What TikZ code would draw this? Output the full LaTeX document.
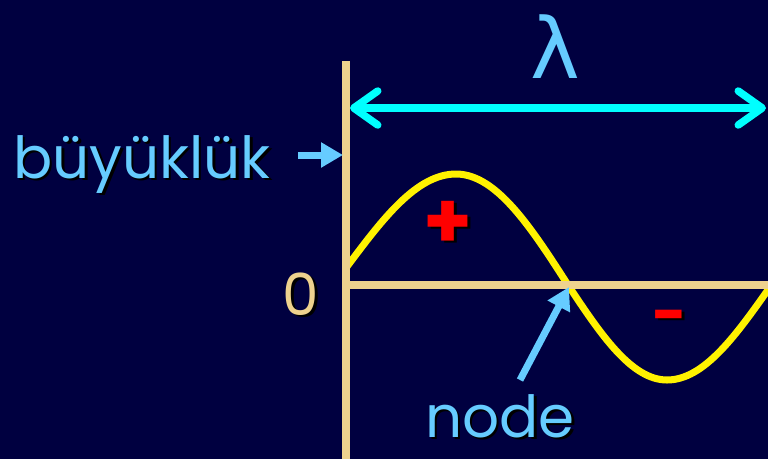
\documentclass[tikz,border=0pt]{standalone}
\usepackage{fontspec}
\setmainfont{Poppins}
\newfontfamily\lambdafont{DejaVu Sans}
\usetikzlibrary{arrows.meta}
\definecolor{bgnavy}{RGB}{0,0,64}
\definecolor{axistan}{RGB}{238,210,142}
\definecolor{labelblue}{RGB}{102,204,255}
\definecolor{spancyan}{RGB}{0,255,255}
\newcommand{\shadowed}[1]{\makebox[0pt][l]{\hspace{2.5pt}\raisebox{-2.5pt}{\color{black}#1}}#1}

\begin{document}
\begin{tikzpicture}[x=1pt,y=-1pt,
    axis/.style={draw=axistan,line width=7.5pt},
    pointer/.style={draw=labelblue,line width=7pt,-{Triangle[length=22pt,width=24pt]}},
    wordlabel/.style={text=labelblue,inner sep=0pt,anchor=base,font=\fontsize{58}{58}\selectfont},
    signlabel/.style={text=red,inner sep=0pt,font=\bfseries\fontsize{60}{60}\selectfont}]
    \fill[bgnavy] (0,0) rectangle (768,459);
    \useasboundingbox (0,0) rectangle (768,459);
    \coordinate (o) at (346,285);
    \coordinate (ytop) at (346,61);
    \coordinate (ybot) at (346,459);
    \coordinate (xend) at (768,285);
    \coordinate (spanL) at (350,108);
    \coordinate (spanR) at (766,108);
    \coordinate (sizetail) at (298,155);
    \coordinate (sizetip) at (343,155);
    \coordinate (nodetail) at (520,380);
    \coordinate (nodetip) at (569,287);
    \draw[yellow,line width=7pt] (346,268) sin (456,174) cos (568,285) sin (667,380) cos (770,287);
    \draw[axis] (ybot) -- (ytop);
    \draw[axis] (o) -- (xend);
    \draw[spancyan,line width=7.5pt,{Straight Barb[round,length=24pt,width=34pt]}-{Straight Barb[round,length=24pt,width=34pt]}] (spanL) -- (spanR);
    \node[text=labelblue,inner sep=0pt,anchor=base,font=\lambdafont\fontsize{84}{84}\selectfont] (lambda) at (555,78) {λ};
    \node[wordlabel] (size) at (142,178) {\shadowed{büyüklük}};
    \node[wordlabel,text=axistan] (zero) at (301,315) {\shadowed{0}};
    \node[wordlabel] (nodeword) at (500,437) {\shadowed{node}};
    \node[signlabel,font=\bfseries\fontsize{78}{78}\selectfont] (plus) at (448,226) {\shadowed{+}};
    \node[signlabel] (minus) at (670,324) {\shadowed{-}};
    \draw[pointer] (sizetail) -- (sizetip);
    \draw[pointer] (nodetail) -- (nodetip);
\end{tikzpicture}
\end{document}
